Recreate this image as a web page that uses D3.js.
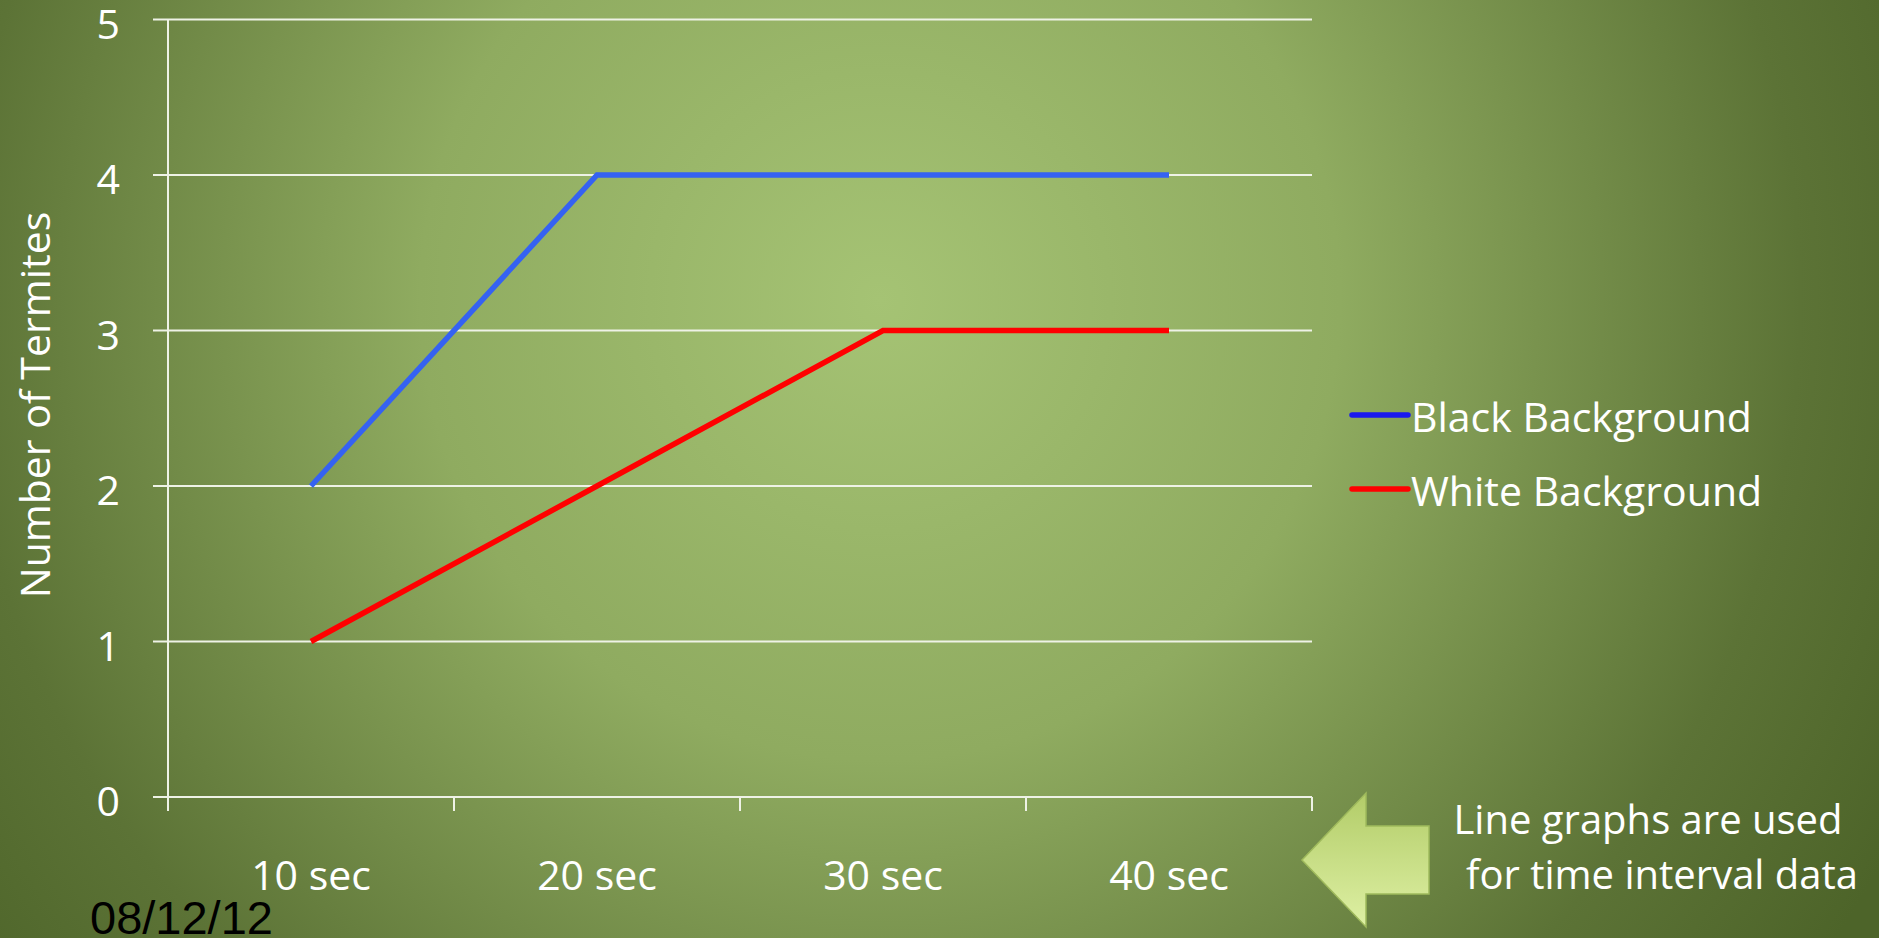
<!DOCTYPE html>
<meta charset="utf-8">
<script src="https://d3js.org/d3.v7.min.js"></script>
<style>
  body { margin: 0; overflow: hidden; }
  text { font-family: "Open Sans", Lato, sans-serif; fill: #fff; }
</style>
<div id="my_dataviz"></div>
<script>

// data
var categories = ["10 sec", "20 sec", "30 sec", "40 sec"];
var blackBackground = [2, 4, 4, 4];
var whiteBackground = [1, 2, 3, 3];
var yTicks = [0, 1, 2, 3, 4, 5];
var seriesNames = ["Black Background", "White Background"];

var W = 1879, H = 938;
var margin = {top: 19.5, left: 168, right: 567, bottom: 141};
var width = W - margin.left - margin.right,
    height = H - margin.top - margin.bottom;

var svg = d3.select("#my_dataviz")
  .append("svg")
    .attr("width", W)
    .attr("height", H);

// slide background: radial green gradient
var defs = svg.append("defs");
var grad = defs.append("radialGradient")
    .attr("id", "bg")
    .attr("gradientUnits", "userSpaceOnUse")
    .attr("cx", 880).attr("cy", 300).attr("r", 1150);
grad.append("stop").attr("offset", "0%").attr("stop-color", "#a5c374");
grad.append("stop").attr("offset", "40%").attr("stop-color", "#8fab60");
grad.append("stop").attr("offset", "80%").attr("stop-color", "#5c7336");
grad.append("stop").attr("offset", "100%").attr("stop-color", "#4d6429");

svg.append("rect")
    .attr("width", W).attr("height", H)
    .attr("fill", "url(#bg)");

var g = svg.append("g")
    .attr("transform", "translate(" + margin.left + "," + margin.top + ")");

var x = d3.scaleBand()
    .domain(categories)
    .range([0, width]);

var y = d3.scaleLinear()
    .domain([0, 5])
    .range([height, 0]);

// horizontal gridlines (extend left as tick marks)
g.selectAll(".grid")
  .data(yTicks)
  .enter().append("line")
    .attr("x1", -15).attr("x2", width)
    .attr("y1", function(d) { return y(d); })
    .attr("y2", function(d) { return y(d); })
    .attr("stroke", "#eef2e6")
    .attr("stroke-width", 2);

// y axis line
g.append("line")
    .attr("x1", 0).attr("x2", 0)
    .attr("y1", 0).attr("y2", height + 14)
    .attr("stroke", "#eef2e6")
    .attr("stroke-width", 2);

// x tick marks at category boundaries
var bounds = categories.map(function(c) { return x(c) + x.bandwidth(); });
g.selectAll(".xtick")
  .data(bounds)
  .enter().append("line")
    .attr("x1", function(d) { return d; })
    .attr("x2", function(d) { return d; })
    .attr("y1", height).attr("y2", height + 14)
    .attr("stroke", "#eef2e6")
    .attr("stroke-width", 2);

// y tick labels
g.selectAll(".ylab")
  .data(yTicks)
  .enter().append("text")
    .attr("x", -48)
    .attr("y", function(d) { return y(d) + 19; })
    .attr("text-anchor", "end")
    .style("font-size", "41px")
    .text(function(d) { return d; });

// x tick labels
g.selectAll(".xlab")
  .data(categories)
  .enter().append("text")
    .attr("x", function(d) { return x(d) + x.bandwidth() / 2; })
    .attr("y", height + 93)
    .attr("text-anchor", "middle")
    .style("font-size", "41px")
    .text(function(d) { return d; });

// y axis title
svg.append("text")
    .attr("transform", "translate(50,405) rotate(-90)")
    .attr("text-anchor", "middle")
    .style("font-size", "41px")
    .text("Number of Termites");

// lines
var line = d3.line()
    .x(function(d, i) { return x(categories[i]) + x.bandwidth() / 2; })
    .y(function(d) { return y(d); });

g.append("path")
    .datum(whiteBackground)
    .attr("d", line)
    .attr("fill", "none")
    .attr("stroke", "#ff0000")
    .attr("stroke-width", 5.5);

g.append("path")
    .datum(blackBackground)
    .attr("d", line)
    .attr("fill", "none")
    .attr("stroke", "#3562f2")
    .attr("stroke-width", 5.5);

// legend
var legendColors = ["#1a1aee", "#ff0000"];
var legend = svg.selectAll(".legend")
  .data(seriesNames)
  .enter().append("g")
    .attr("transform", function(d, i) { return "translate(1352," + (415 + i * 74) + ")"; });
legend.append("line")
    .attr("x1", 0).attr("x2", 56)
    .attr("stroke", function(d, i) { return legendColors[i]; })
    .attr("stroke-width", 5.5)
    .attr("stroke-linecap", "round");
legend.append("text")
    .attr("x", 59)
    .attr("y", 17)
    .style("font-size", "41px")
    .text(function(d) { return d; });

// arrow callout
var arrowGrad = defs.append("linearGradient")
    .attr("id", "arrowFill")
    .attr("x1", 0).attr("y1", 0).attr("x2", 0).attr("y2", 1);
arrowGrad.append("stop").attr("offset", "0%").attr("stop-color", "#b2cc68");
arrowGrad.append("stop").attr("offset", "100%").attr("stop-color", "#def0a4");

svg.append("path")
    .attr("d", "M1302,860 L1366,793 L1366,826 L1429,826 L1429,894 L1366,894 L1366,927 Z")
    .attr("fill", "url(#arrowFill)")
    .attr("stroke", "#9fba5c")
    .attr("stroke-width", 1.5);

svg.append("text")
    .attr("x", 1648).attr("y", 834)
    .attr("text-anchor", "middle")
    .style("font-size", "40px")
    .text("Line graphs are used");
svg.append("text")
    .attr("x", 1662).attr("y", 889)
    .attr("text-anchor", "middle")
    .style("font-size", "40px")
    .text("for time interval data");

// date stamp
svg.append("text")
    .attr("x", 90).attr("y", 934)
    .style("font-family", "'Liberation Sans', Arial, sans-serif")
    .style("font-size", "47px")
    .style("fill", "#000")
    .text("08/12/12");

</script>
